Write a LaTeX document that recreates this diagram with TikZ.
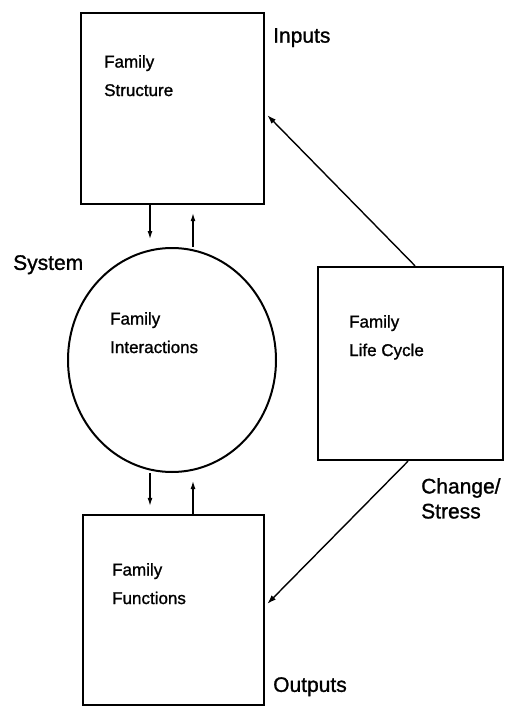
\documentclass[tikz,border=0pt]{standalone}
\usepackage{fontspec}
\setmainfont{Liberation Sans}[UprightFeatures={FakeBold=1.2}]
\usetikzlibrary{positioning}
\usetikzlibrary{shapes.geometric}
\usetikzlibrary{arrows.meta}

\begin{document}
\begin{tikzpicture}[
        x=1pt, y=-1pt,
        block/.style={rectangle, draw=black, line width=2.4pt},
        system/.style={ellipse, draw=black, line width=2pt, minimum width=208, minimum height=224},
        boxtext/.style={anchor=north west, inner sep=0, align=left, font=\fontsize{17}{28.5}\selectfont},
        tag/.style={anchor=north west, inner sep=0, align=left, font=\fontsize{21}{25}\selectfont},
        flow/.style={-{Latex[length=8pt,width=5pt]}, line width=1.2pt, shorten >=8pt},
        feed/.style={-{Latex[length=9pt,width=6pt]}, line width=1.4pt, shorten >=3pt},
    ]

    \useasboundingbox (0,0) rectangle (505,706);

    \node[block, minimum width=183, minimum height=191]  (FS)  at (172.5,108.5) {};
    \node[system]                                         (FI)  at (172,360)     {};
    \node[block, minimum width=185, minimum height=193]  (LC)  at (410.5,363.5) {};
    \node[block, minimum width=181, minimum height=190]  (FF)  at (173.5,610)   {};

    \node[boxtext]  (T1)  at (104,55)   {Family\\Structure};
    \node[boxtext]  (T2)  at (110,312)  {Family\\Interactions};
    \node[boxtext]  (T3)  at (349,315)  {Family\\Life Cycle};
    \node[boxtext]  (T4)  at (112,563)  {Family\\Functions};

    \node[tag]  (In)   at (273,28)   {Inputs};
    \node[tag]  (Sys)  at (13,255)   {System};
    \node[tag]  (Chg)  at (421,478)  {Change/\\Stress};
    \node[tag]  (Out)  at (273,677)  {Outputs};

    \coordinate (A1) at ([xshift=-22pt]FI.north);
    \coordinate (A2) at ([xshift=21pt]FI.north);
    \coordinate (A3) at ([xshift=-22pt]FI.south);
    \coordinate (A4) at ([xshift=21pt]FI.south);

    \draw[flow] (A1 |- FS.south) -- (A1);
    \draw[flow] (A2) -- (A2 |- FS.south);
    \draw[flow] (A3) -- (A3 |- FF.north);
    \draw[flow] (A4 |- FF.north) -- (A4);

    \draw[feed] ([xshift=4.5pt]LC.north)  -- ([yshift=-4.5pt]FS.east);
    \draw[feed] ([xshift=-2.5pt]LC.south) -- ([yshift=4pt]FF.east);
\end{tikzpicture}
\end{document}
